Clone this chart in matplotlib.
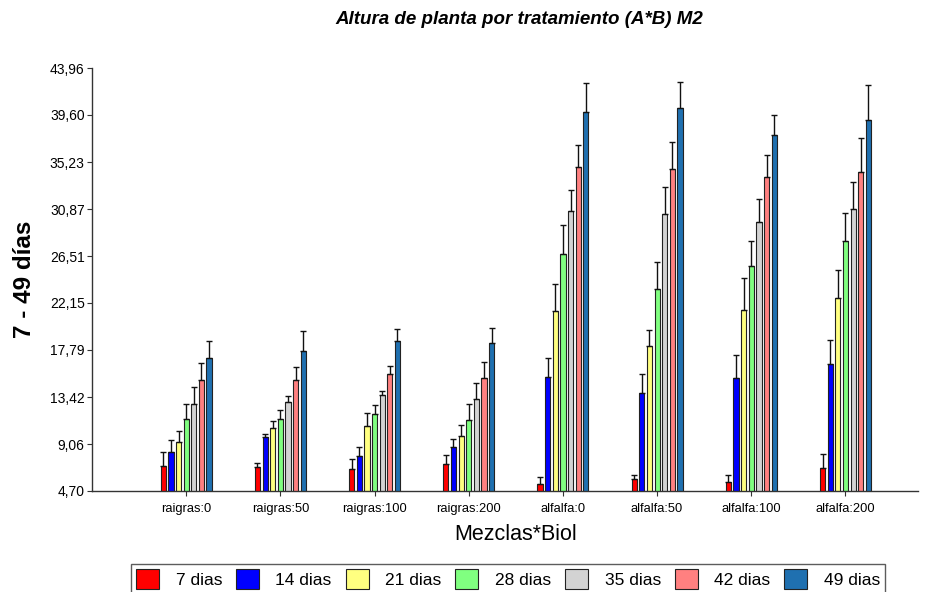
import numpy as np
import matplotlib
matplotlib.use("Agg")
import matplotlib.pyplot as plt
from matplotlib.patches import Patch

plt.rcParams['font.family'] = ['Liberation Sans', 'DejaVu Sans']

groups = ["raigras:0", "raigras:50", "raigras:100", "raigras:200",
          "alfalfa:0", "alfalfa:50", "alfalfa:100", "alfalfa:200"]
series = ["7 dias", "14 dias", "21 dias", "28 dias", "35 dias", "42 dias", "49 dias"]
colors = ["#FF0000", "#0000FF", "#FFFF80", "#80FF80", "#D3D3D3", "#FF8080", "#1F70B0"]

# mean height per group (rows) and day (columns)
means = np.array([
    [7.05, 8.32, 9.22, 11.41, 12.80, 15.00, 17.04],
    [6.96, 9.74, 10.52, 11.35, 12.93, 15.00, 17.72],
    [6.71, 7.98, 10.73, 11.87, 13.61, 15.56, 18.65],
    [7.18, 8.78, 9.80, 11.32, 13.24, 15.22, 18.41],
    [5.38, 15.31, 21.41, 26.67, 30.69, 34.80, 39.85],
    [5.79, 13.82, 18.19, 23.45, 30.44, 34.59, 40.22],
    [5.56, 15.19, 21.53, 25.61, 29.64, 33.87, 37.77],
    [6.83, 16.46, 22.64, 27.90, 30.90, 34.34, 39.16],
])
# upper error bars
errs = np.array([
    [1.24, 1.14, 1.05, 1.39, 1.58, 1.58, 1.58],
    [0.31, 0.28, 0.68, 0.87, 0.56, 1.24, 1.83],
    [0.93, 0.78, 1.24, 0.78, 0.34, 0.77, 1.09],
    [0.89, 0.77, 1.03, 1.48, 1.51, 1.45, 1.42],
    [0.65, 1.71, 2.47, 2.75, 1.92, 2.04, 2.75],
    [0.42, 1.71, 1.45, 2.50, 2.50, 2.50, 2.47],
    [0.63, 2.16, 2.94, 2.29, 2.19, 2.04, 1.86],
    [1.33, 2.26, 2.60, 2.63, 2.51, 3.10, 3.20],
])
yticks = [4.70, 9.06, 13.42, 17.79, 22.15, 26.51, 30.87, 35.23, 39.60, 43.96]

fig = plt.figure(figsize=(9.32, 5.92), dpi=100)
ax = fig.add_axes([92/932, 1-491/592, (918-92)/932, (491-68)/592])

x = np.arange(1, len(groups) + 1)
step = 0.081
width = 0.055
for j, name in enumerate(series):
    xpos = x + (j - 3) * step
    ax.bar(xpos, means[:, j], width=width, color=colors[j],
           edgecolor="#222222", linewidth=0.8, zorder=2)
    ax.errorbar(xpos, means[:, j], yerr=[np.zeros(len(groups)), errs[:, j]],
                fmt="none", ecolor="#111111", elinewidth=1.0, capsize=2,
                capthick=1.0, zorder=3)

ax.set_xlim(0, 8.77)
ax.set_ylim(4.70, 43.96)
ax.set_yticks(yticks)
ax.set_yticklabels([f"{v:.2f}".replace(".", ",") for v in yticks], fontsize=10)
ax.set_xticks(x)
ax.set_xticklabels(groups, fontsize=9.3)
ax.tick_params(axis="both", length=3.75, width=0.8, color="#333333")
ax.tick_params(axis="y", pad=1.5)
ax.tick_params(axis="x", pad=5)
for s in ["top", "right"]:
    ax.spines[s].set_visible(False)
for s in ["left", "bottom"]:
    ax.spines[s].set_color("#333333")
    ax.spines[s].set_linewidth(1.0)

ax.set_xlabel("Mezclas*Biol", fontsize=15.5, va="baseline")
ax.xaxis.set_label_coords((516 - 92) / 826, (491 - 540) / 423)
ax.set_ylabel("7 - 49 días", fontsize=17.5, fontweight="bold", labelpad=10)
fig.text(519/932, 1-19/592, "Altura de planta por tratamiento (A*B) M2",
         ha="center", va="center", fontsize=13.5, fontweight="bold", style="italic")

handles = [Patch(facecolor=c, edgecolor="#222222", linewidth=0.8) for c in colors]
leg = fig.legend(handles, series, loc="upper center", bbox_to_anchor=(508/932, 1-564/592),
                 ncol=7, fontsize=12.5, frameon=True, fancybox=False,
                 handlelength=1.32, handleheight=1.38, handletextpad=0.96,
                 columnspacing=0.8, borderpad=0.3, borderaxespad=0)
leg.get_frame().set_edgecolor("#333333")
leg.get_frame().set_linewidth(1.0)

fig.savefig("out.png", dpi=100)
